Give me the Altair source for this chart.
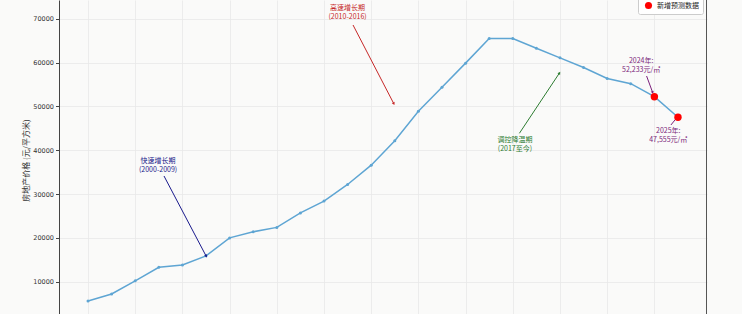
import altair as alt
import pandas as pd
import math

years = list(range(2000, 2026))
prices = [5600, 7200, 10200, 13300, 13800, 15900, 20000, 21400, 22400, 25700,
          28400, 32200, 36600, 42200, 48900, 54400, 59900, 65500, 65500, 63300,
          61100, 58900, 56400, 55200, 52233, 47555]

forecast_years = [2024, 2025]
forecast_prices = [52233, 47555]
legend_label = "新增预测数据"

y_ticks = [10000, 20000, 30000, 40000, 50000, 60000, 70000]
x_grid = list(range(2000, 2025, 2))

# annotations: text, text position, arrow start, arrow end (data coordinates), color
ann_text = ["快速增长期\n(2000-2009)", "高速增长期\n(2010-2016)", "调控降温期\n(2017至今)",
            "2024年:\n52,233元/㎡", "2025年:\n47,555元/㎡"]
ann_tx = [2002.97, 2011.0, 2018.09, 2023.44, 2024.59]
ann_ty = [37470, 72586, 42291, 60330, 44506]
ann_sx = [2003.22, 2011.23, 2018.28, 2023.67, 2024.70]
ann_sy = [34131, 68605, 43880, 56960, 45775]
ann_ex = [2005.0, 2012.95, 2019.97, 2023.92, 2024.93]
ann_ey = [15900, 50730, 57580, 53300, 47300]
ann_color = ["#1a1a8c", "#c62828", "#2e7d32", "#7b1f7b", "#7b1f7b"]

W, H = 648, 314
XD = [1998.77, 2026.23]
YD = [2626, 74313]

df = pd.DataFrame({"year": years, "price": prices})
fdf = pd.DataFrame({"year": forecast_years, "price": forecast_prices,
                    "series": [legend_label] * len(forecast_years)})

# arrowhead angle in pixel space
angles = []
for sx, sy, ex, ey in zip(ann_sx, ann_sy, ann_ex, ann_ey):
    dx = (ex - sx) / (XD[1] - XD[0]) * W
    dy = -(ey - sy) / (YD[1] - YD[0]) * H
    angles.append(math.degrees(math.atan2(dx, -dy)) % 360)

adf = pd.DataFrame({"text": ann_text, "tx": ann_tx, "ty": ann_ty, "sx": ann_sx, "sy": ann_sy,
                    "ex": ann_ex, "ey": ann_ey, "color": ann_color, "angle": angles})

xs = alt.Scale(domain=XD, nice=False, zero=False)
ys = alt.Scale(domain=YD, nice=False, zero=False)

x_enc = alt.X("year:Q", scale=xs,
              axis=alt.Axis(values=x_grid, labels=False, ticks=False, domain=False,
                            grid=True, gridColor="#e9e9e9", gridWidth=0.8, title=None))
y_enc = alt.Y("price:Q", scale=ys,
              axis=alt.Axis(values=y_ticks, format="d", grid=True, gridColor="#e9e9e9",
                            gridWidth=0.8,
                            domain=True, domainColor="#444444", domainWidth=1,
                            tickColor="#444444", tickSize=3.5, labelPadding=2,
                            labelFont="DejaVu Sans", labelFontSize=6.5, labelColor="#333333",
                            title="房地产价格 (元/平方米)", titleFont="Noto Sans CJK SC",
                            titleFontSize=8, titleFontWeight="normal", titleColor="#333333",
                            titleAngle=-90, titleX=-33, titleY=160, titleBaseline="middle",
                            titleAlign="center"))

line = alt.Chart(df).mark_line(
    color="#5ea5d3", strokeWidth=1.5,
    point=alt.OverlayMarkDef(size=9, filled=True, color="#5ea5d3")
).encode(x=x_enc, y=y_enc)

red = alt.Chart(fdf).mark_circle(size=55, opacity=1).encode(
    x=alt.X("year:Q", scale=xs),
    y=alt.Y("price:Q", scale=ys),
    color=alt.Color("series:N", scale=alt.Scale(domain=[legend_label], range=["#ff0000"]),
                    legend=alt.Legend(title=None, orient="none", legendX=579, legendY=-3,
                                      padding=4, symbolSize=50, symbolType="circle",
                                      labelFont="Noto Sans CJK SC", labelFontSize=7,
                                      labelColor="#222222", fillColor="#ffffff",
                                      strokeColor="#cccccc", cornerRadius=2,
                                      symbolOffset=2))
)

arrows = alt.Chart(adf).mark_rule(strokeWidth=1).encode(
    x=alt.X("sx:Q", scale=xs), y=alt.Y("sy:Q", scale=ys),
    x2="ex:Q", y2="ey:Q",
    color=alt.Color("color:N", scale=None)
)

heads = alt.Chart(adf).mark_point(shape="triangle", filled=True, size=10, opacity=1).encode(
    x=alt.X("ex:Q", scale=xs), y=alt.Y("ey:Q", scale=ys),
    angle=alt.Angle("angle:Q", scale=None),
    color=alt.Color("color:N", scale=None)
)

texts = alt.Chart(adf).mark_text(
    font="Noto Sans CJK SC", fontSize=7, lineBreak="\n", lineHeight=9,
    align="center", baseline="middle"
).encode(
    x=alt.X("tx:Q", scale=xs), y=alt.Y("ty:Q", scale=ys),
    text="text:N", color=alt.Color("color:N", scale=None)
)

frame = alt.Chart(df).mark_rule(color="#555555", strokeWidth=1).encode(
    x=alt.value(W - 0.5), y=alt.value(0), y2=alt.value(H)
)

chart = alt.layer(line, arrows, heads, texts, red, frame).properties(
    width=W, height=H,
    autosize=alt.AutoSizeParams(type="none"),
    padding={"left": 59, "right": 35, "top": 0, "bottom": 0},
    background="#fafaf9"
).configure_view(stroke=None)

chart.save("out.html", embed_options={"renderer": "svg", "actions": False})
